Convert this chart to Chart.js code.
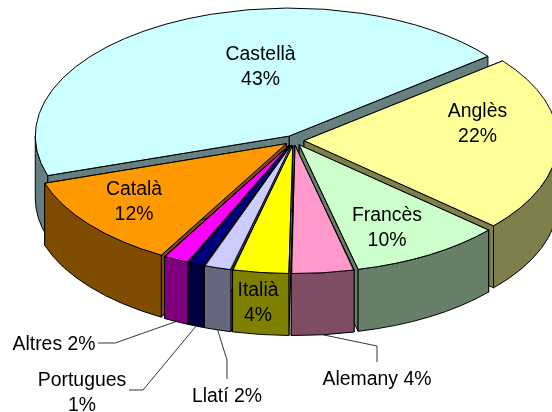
<!DOCTYPE html>
<html><head><meta charset="utf-8">
<style>html,body{margin:0;padding:0;background:#fff}canvas{display:block}</style>
<script src="https://cdn.jsdelivr.net/npm/chart.js@4"></script>
</head><body>
<canvas id="c" width="552" height="412"></canvas>
<script>
const languages = ['Castellà','Anglès','Francès','Alemany','Italià','Llatí','Portugues','Altres','Català'];
const shares = [43.49,21.9,9.5,3.9,3.5,1.7,1.0,1.6,11.6];
const faceColors = ['#CCFFFF','#FFFF99','#CCFFCC','#FF99CC','#FFFF00','#CCCCFF','#000080','#FF00FF','#FF9900'];

// Layout of the 3D pie
const RADIUS = 254, SQUASH = 0.504, DEPTH = 62, EXPLODE = 10, ROTATION = 252;
const FONT = '19.4px "Liberation Sans", Arial, sans-serif';

// Text placement: centre x, centre y of the first line, lines
const labelPlacement = [
  {x:260.5,y:54.5,lines:['Castellà','43%']},
  {x:477.5,y:111.5,lines:['Anglès','22%']},
  {x:387,y:215.5,lines:['Francès','10%']},
  {x:377,y:379.5,lines:['Alemany 4%']},
  {x:258,y:290.5,lines:['Italià','4%']},
  {x:227,y:397,lines:['Llatí 2%']},
  {x:82,y:380.5,lines:['Portugues','1%']},
  {x:54,y:345,lines:['Altres 2%']},
  {x:134,y:189.5,lines:['Català','12%']}
];
// Leader lines from a slice's rim: elbow and end point of the line
const leaders = {3:[[377,346],[377,362]],5:[[227,360],[227,379]],6:[[143,390],[129,390]],7:[[115,343],[98,343]]};

const shade = hex => {
  const n = parseInt(hex.slice(1),16);
  return 'rgb('+((n>>16&255)>>1)+','+((n>>8&255)>>1)+','+((n&255)>>1)+')';
};
function geom(el){
  const mid=(el.startAngle+el.endAngle)/2;
  const ax=el.x+Math.cos(mid)*EXPLODE, ay=el.y+Math.sin(mid)*EXPLODE*SQUASH;
  return {ax,ay,mid,a0:el.startAngle,a1:el.endAngle,R:RADIUS};
}
function pt(g,a,d){return [g.ax+Math.cos(a)*g.R,g.ay+Math.sin(a)*g.R*SQUASH+(d||0)];}
function drawWalls(ctx,g,color){
  ctx.fillStyle=color;ctx.strokeStyle='#000';ctx.lineWidth=1;ctx.lineJoin='round';
  [g.a0,g.a1].forEach(a=>{
    const p=pt(g,a);
    ctx.beginPath();ctx.moveTo(g.ax,g.ay);ctx.lineTo(p[0],p[1]);ctx.lineTo(p[0],p[1]+DEPTH);ctx.lineTo(g.ax,g.ay+DEPTH);ctx.closePath();
    ctx.fill();ctx.stroke();
  });
  const tau=2*Math.PI;
  [[0,Math.PI],[tau,tau+Math.PI],[-tau,-Math.PI]].forEach(r=>{
    const s=Math.max(g.a0,r[0]), e=Math.min(g.a1,r[1]);
    if(e<=s) return;
    ctx.beginPath();
    ctx.ellipse(g.ax,g.ay,g.R,g.R*SQUASH,0,s,e,false);
    ctx.ellipse(g.ax,g.ay+DEPTH,g.R,g.R*SQUASH,0,e,s,true);
    ctx.closePath();ctx.fill();ctx.stroke();
  });
}
const pie3d = {
  id:'pie3d',
  afterDatasetsUpdate(chart){
    // Chart.js widens an exploded arc by offset/4*(1-sin c); undo that so all slices share one radius
    chart.getDatasetMeta(0).data.forEach(el=>{
      const c=el.endAngle-el.startAngle;
      el.outerRadius=RADIUS-EXPLODE*(1-Math.sin(Math.min(Math.PI,c)));
    });
  },
  beforeDatasetsDraw(chart){
    const ctx=chart.ctx, arcs=chart.getDatasetMeta(0).data;
    const list=arcs.map((el,i)=>({g:geom(el),i}));
    list.forEach(o=>{o.key=o.g.ay+Math.sin(o.g.mid)*o.g.R*SQUASH*0.6;});
    list.sort((a,b)=>a.key-b.key);
    list.forEach(o=>drawWalls(ctx,o.g,shade(faceColors[o.i])));
    const e=arcs[0];
    ctx.save();
    ctx.translate(e.x,e.y);ctx.scale(1,SQUASH);ctx.translate(-e.x,-e.y);
  },
  afterDatasetsDraw(chart){
    const ctx=chart.ctx, arcs=chart.getDatasetMeta(0).data;
    ctx.restore();
    ctx.strokeStyle='#000';ctx.lineWidth=1;ctx.lineJoin='round';
    arcs.forEach(el=>{
      const g=geom(el);
      ctx.beginPath();ctx.moveTo(g.ax,g.ay);
      ctx.ellipse(g.ax,g.ay,g.R,g.R*SQUASH,0,g.a0,g.a1,false);
      ctx.closePath();ctx.stroke();
    });
    ctx.strokeStyle='#000';ctx.lineWidth=0.8;
    Object.keys(leaders).forEach(k=>{
      const g=geom(arcs[k]);
      const p=pt(g,g.mid,DEPTH);
      ctx.beginPath();ctx.moveTo(p[0],p[1]);
      leaders[k].forEach(q=>ctx.lineTo(q[0],q[1]));
      ctx.stroke();
    });
    ctx.fillStyle='#000';ctx.font=FONT;ctx.textAlign='center';ctx.textBaseline='middle';
    labelPlacement.forEach(l=>{
      l.lines.forEach((t,j)=>ctx.fillText(t,l.x,l.y+j*25.5));
    });
  }
};
new Chart(document.getElementById('c'),{
  type:'pie',
  data:{labels:languages,datasets:[{data:shares,backgroundColor:faceColors,borderWidth:0,offset:4*EXPLODE,clip:false}]},
  options:{
    responsive:false,animation:false,radius:RADIUS,rotation:ROTATION,
    layout:{padding:{left:36,right:0,top:0,bottom:131}},
    plugins:{legend:{display:false},tooltip:{enabled:false},title:{display:false}},
    events:[]
  },
  plugins:[pie3d]
});
</script>
</body></html>
